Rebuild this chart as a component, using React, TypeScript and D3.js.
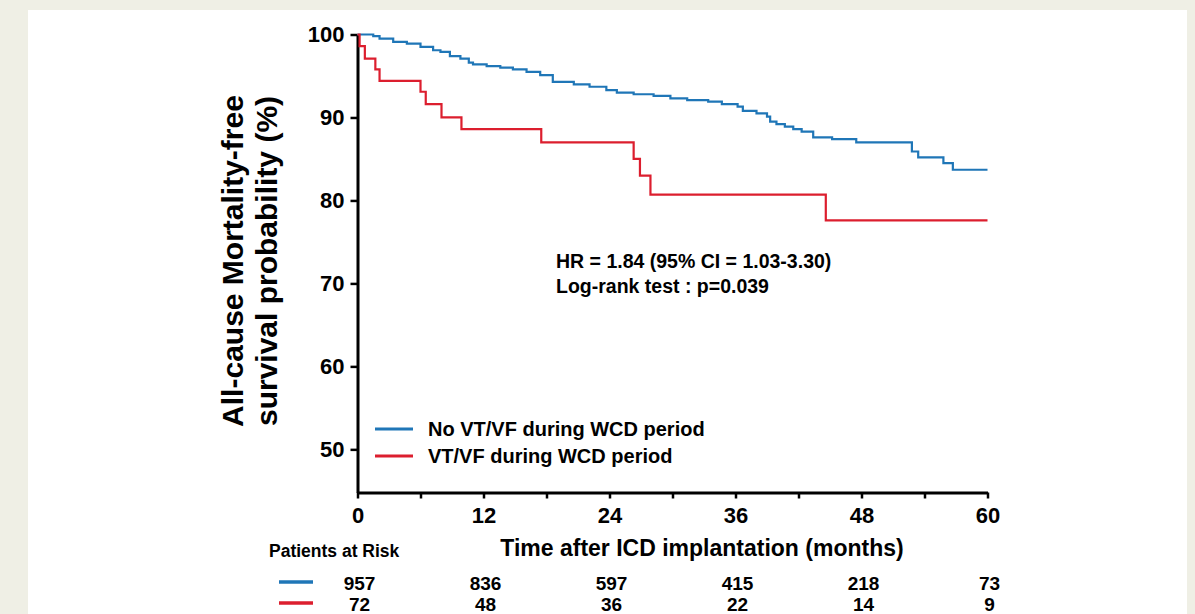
import React, { useEffect, useRef } from 'react';
import * as d3 from 'd3';

// Kaplan-Meier steps (months, survival %)
const noVtMonths = [0, 1.5, 2.1, 3.4, 4.7, 6.0, 7.2, 7.9, 8.8, 9.8, 10.6, 11.0, 12.3, 13.6, 14.8, 16.1, 17.4, 18.6, 20.6, 22.1, 23.7, 24.7, 26.3, 28.2, 29.8, 31.4, 33.4, 34.7, 36.2, 36.7, 38.0, 39.0, 39.3, 39.9, 40.7, 41.5, 42.3, 43.4, 45.2, 47.5, 52.8, 53.4, 55.8, 56.7, 60];
const noVtSurvival = [100, 99.8, 99.5, 99.1, 98.9, 98.5, 98.1, 97.9, 97.4, 97.1, 96.6, 96.4, 96.2, 96.0, 95.8, 95.5, 95.1, 94.3, 94.0, 93.7, 93.3, 93.0, 92.8, 92.6, 92.3, 92.1, 91.9, 91.6, 91.3, 90.8, 90.5, 90.1, 89.5, 89.2, 88.9, 88.6, 88.3, 87.6, 87.4, 87.0, 85.9, 85.2, 84.5, 83.7, 83.7];

const vtMonths = [0, 0.2, 0.7, 1.7, 2.1, 6.0, 6.5, 8.0, 9.9, 17.5, 26.3, 26.9, 27.9, 44.6, 60];
const vtSurvival = [100, 98.6, 97.1, 95.8, 94.4, 93.1, 91.6, 90.0, 88.6, 87.0, 85.0, 83.0, 80.7, 77.6, 77.6];

const xTickValues = [0, 6, 12, 18, 24, 30, 36, 42, 48, 54, 60];
const riskTimes = [0, 12, 24, 36, 48, 60];
const yTickValues = [50, 60, 70, 80, 90, 100];
const riskNoVt = [957, 836, 597, 415, 218, 73];
const riskVt = [72, 48, 36, 22, 14, 9];

const seriesNames = ['No VT/VF during WCD period', 'VT/VF during WCD period'];
const seriesColors = ['#1f76b7', '#dc1e2e'];

const App = () => {
  const ref = useRef<SVGSVGElement>(null);

  useEffect(() => {
    const svg = d3.select(ref.current);
    svg.selectAll('*').remove();
    const font = '"Liberation Sans", Arial, Helvetica, sans-serif';
    const narrow = '"Liberation Sans Narrow", "Arial Narrow", "Liberation Sans", Arial, sans-serif';

    // page background and white panel
    svg.append('rect').attr('width', 1195).attr('height', 614).attr('fill', '#efefe5');
    svg.append('rect').attr('x', 28).attr('y', 10).attr('width', 1159).attr('height', 620).attr('fill', '#ffffff');

    const x = d3.scaleLinear().domain([0, 60]).range([357.5, 987.5]);
    const y = d3.scaleLinear().domain([44.8, 100]).range([492.5, 34.5]);

    // axes
    const xAxis = svg.append('g')
      .attr('transform', `translate(0,${y(44.8)})`)
      .call(d3.axisBottom(x).tickValues(xTickValues).tickSize(6).tickSizeOuter(0).tickPadding(9)
        .tickFormat(d => (+d % 12 === 0 ? String(d) : '')));
    const yAxis = svg.append('g')
      .attr('transform', `translate(${x(0)},0)`)
      .call(d3.axisLeft(y).tickValues(yTickValues).tickSize(7).tickSizeOuter(0).tickPadding(6));

    [xAxis, yAxis].forEach(g => {
      g.select('.domain').attr('stroke', '#000').attr('stroke-width', 3);
      g.selectAll('.tick line').attr('stroke', '#000').attr('stroke-width', 2.5);
      g.selectAll('.tick text')
        .attr('fill', '#000')
        .style('font-family', font)
        .style('font-weight', 'bold')
        .style('font-size', '22px');
    });

    // curves
    const line = d3.line<[number, number]>()
      .x(d => x(d[0]))
      .y(d => y(d[1]))
      .curve(d3.curveStepAfter);

    const noVt = noVtMonths.map((m, i) => [m, noVtSurvival[i]] as [number, number]);
    const vt = vtMonths.map((m, i) => [m, vtSurvival[i]] as [number, number]);

    [noVt, vt].forEach((data, i) => {
      svg.append('path')
        .datum(data)
        .attr('fill', 'none')
        .attr('stroke', seriesColors[i])
        .attr('stroke-width', 2.2)
        .attr('d', line);
    });

    // y axis title
    const yTitle = svg.append('g')
      .style('font-family', font)
      .style('font-weight', 'bold')
      .style('font-size', '30px')
      .attr('fill', '#000');
    yTitle.append('text')
      .attr('transform', 'translate(243,261) rotate(-90)')
      .attr('text-anchor', 'middle')
      .text('All-cause Mortality-free');
    yTitle.append('text')
      .attr('transform', 'translate(277,261) rotate(-90)')
      .attr('text-anchor', 'middle')
      .text('survival probability (%)');

    // x axis title
    svg.append('text')
      .attr('x', 702)
      .attr('y', 556)
      .attr('text-anchor', 'middle')
      .style('font-family', font)
      .style('font-weight', 'bold')
      .style('font-size', '23px')
      .text('Time after ICD implantation (months)');

    // legend
    seriesNames.forEach((name, i) => {
      const ly = 429 + i * 27;
      svg.append('line')
        .attr('x1', 375).attr('x2', 413)
        .attr('y1', ly).attr('y2', ly)
        .attr('stroke', seriesColors[i])
        .attr('stroke-width', 3);
      svg.append('text')
        .attr('x', 428)
        .attr('y', ly + 7)
        .style('font-family', font)
        .style('font-weight', 'bold')
        .style('font-size', '20px')
        .text(name);
    });

    // statistics annotation
    const stats = svg.append('g')
      .style('font-family', font)
      .style('font-weight', 'bold')
      .style('font-size', '19.5px');
    stats.append('text').attr('x', 556).attr('y', 268).text('HR = 1.84 (95% CI = 1.03-3.30)');
    stats.append('text').attr('x', 556).attr('y', 293).text('Log-rank test : p=0.039');

    // patients at risk
    svg.append('text')
      .attr('x', 269)
      .attr('y', 557)
      .style('font-family', font)
      .style('font-weight', 'bold')
      .style('font-size', '17.5px')
      .text('Patients at Risk');

    [riskNoVt, riskVt].forEach((row, i) => {
      const ry = 582 + i * 21;
      svg.append('line')
        .attr('x1', 279).attr('x2', 313)
        .attr('y1', ry).attr('y2', ry)
        .attr('stroke', seriesColors[i])
        .attr('stroke-width', 3.5);
      svg.append('g')
        .selectAll('text')
        .data(row)
        .join('text')
        .attr('x', (d, j) => x(riskTimes[j]) + 2)
        .attr('y', ry + 8)
        .attr('text-anchor', 'middle')
        .style('font-family', narrow)
        .style('font-weight', 'bold')
        .style('font-size', '19px')
        .text(d => d);
    });
  }, []);

  return <svg ref={ref} width={1195} height={614} style={{ position: 'absolute', left: 0, top: 0 }} />;
};

export default App;
